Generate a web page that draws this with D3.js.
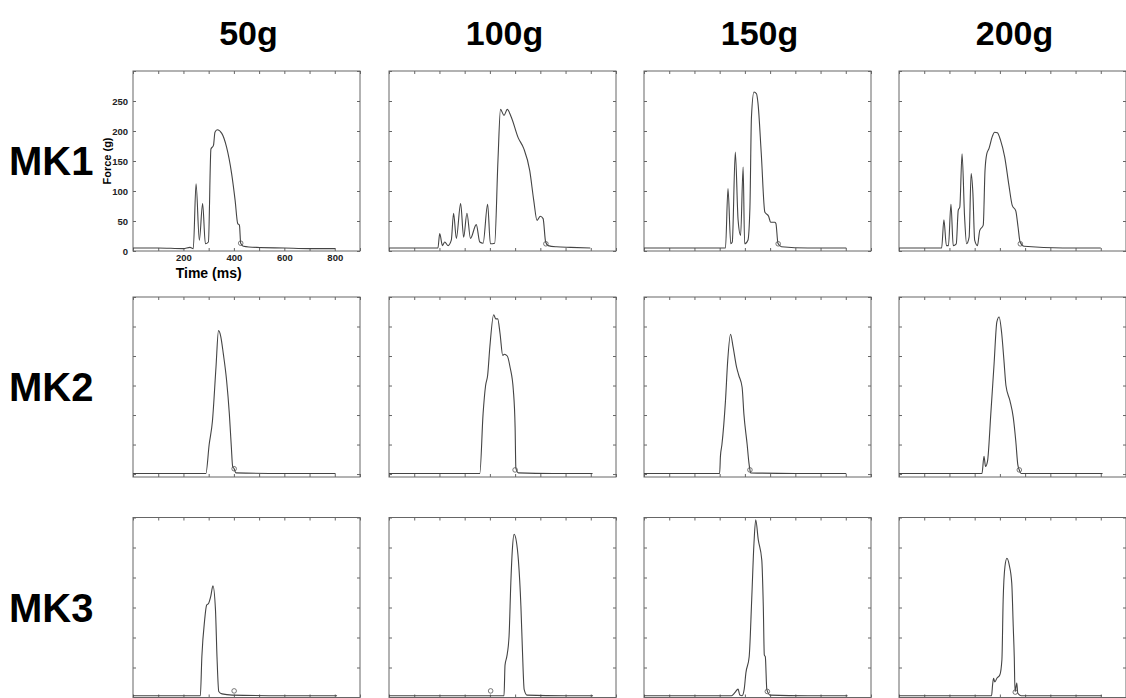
<!DOCTYPE html>
<html>
<head>
<meta charset="utf-8">
<script src="https://cdn.jsdelivr.net/npm/d3@7"></script>
<style>
  body { margin: 0; background: #fff; }
  svg { font-family: "Liberation Sans", Arial, sans-serif; }
  .tick text { font-weight: bold; font-size: 9.5px; fill: #222; }
</style>
</head>
<body>
<svg id="chart" width="1126" height="698"></svg>
<script>
// column / row headers
var loads = ['50g', '100g', '150g', '200g'];
var mice = ['MK1', 'MK2', 'MK3'];

// ticks
var timeTicks = [0, 100, 200, 300, 400, 500, 600, 700, 800, 900];
var forceTicks = [0, 50, 100, 150, 200, 250, 300];
var timeLabels = [200, 400, 600, 800];
var forceLabels = [0, 50, 100, 150, 200, 250];

// traces, [time ms, force g]
var mk1_50 = [[0,5],[100,5],[200,4],[226,6],[239,4],[250,112],[263,18],[276,79],[287,12],[299,15],[309,170],[319,176],[325,198],[334,202],[352,196],[371,173],[391,129],[405,84],[415,46],[422,43],[427,13],[438,8],[490,6],[600,5],[700,4],[801,4]];
var mk1_100 = [[0,5],[100,5],[194,5],[201,29],[212,9],[221,15],[234,9],[247,18],[256,63],[267,21],[284,79],[296,23],[309,63],[323,21],[346,44],[360,15],[373,13],[391,78],[402,12],[419,13],[432,151],[442,236],[456,226],[469,236],[485,223],[512,189],[534,171],[558,134],[574,84],[587,51],[600,58],[611,54],[621,15],[631,9],[664,7],[720,6],[798,5]];
var mk1_150 = [[0,5],[150,5],[323,5],[333,104],[344,12],[350,15],[362,165],[373,52],[383,26],[393,140],[399,12],[412,18],[420,73],[426,223],[436,265],[446,262],[452,246],[465,162],[479,65],[485,62],[494,58],[502,48],[518,48],[523,46],[531,13],[545,7],[650,5],[802,5]];
var mk1_200 = [[0,5],[100,5],[169,5],[178,52],[188,9],[196,9],[206,78],[215,9],[227,12],[235,68],[241,73],[250,162],[260,57],[268,12],[278,23],[286,129],[293,96],[300,18],[311,9],[320,34],[334,43],[341,134],[348,162],[357,171],[370,191],[379,198],[390,197],[403,184],[419,157],[436,109],[449,76],[463,67],[472,40],[480,15],[496,8],[650,5],[800,5]];

var mk2_50 = [[0,1],[150,1],[289,1],[302,50],[315,90],[329,181],[339,243],[348,233],[358,204],[371,159],[382,102],[390,45],[395,13],[401,9],[408,2],[600,1],[803,1]];
var mk2_100 = [[0,1],[200,1],[360,1],[373,102],[383,150],[391,167],[400,216],[415,270],[423,263],[431,263],[440,239],[451,201],[457,203],[469,200],[480,181],[493,142],[500,79],[503,10],[513,2],[650,1],[807,1]];
var mk2_150 = [[0,1],[150,1],[300,1],[303,30],[309,50],[323,124],[332,193],[343,237],[353,216],[367,181],[376,167],[389,147],[396,102],[409,50],[416,19],[420,7],[423,2],[600,1],[802,1]];
var mk2_200 = [[0,1],[200,1],[329,1],[337,30],[343,13],[351,22],[364,102],[377,187],[388,258],[397,266],[407,239],[416,193],[424,150],[440,124],[453,96],[463,56],[471,16],[477,7],[484,1],[650,1],[807,1]];

var mk3_50 = [[0,3],[150,3],[267,3],[273,68],[284,129],[292,154],[300,157],[308,168],[317,186],[327,146],[333,68],[340,10],[353,6],[393,4],[600,3],[809,3]];
var mk3_100 = [[0,3],[200,3],[456,3],[460,54],[467,68],[476,102],[483,191],[489,246],[496,272],[505,260],[513,229],[523,152],[529,79],[536,13],[547,4],[700,3],[809,3]];
var mk3_150 = [[0,3],[200,3],[347,3],[360,8],[373,14],[380,4],[389,3],[397,13],[404,41],[417,68],[427,163],[436,257],[443,296],[453,263],[467,229],[473,152],[477,71],[481,68],[487,13],[500,4],[650,3],[807,3]];
var mk3_200 = [[0,3],[200,3],[367,3],[371,21],[375,32],[380,26],[388,32],[400,38],[408,63],[413,163],[420,218],[428,232],[437,221],[447,191],[453,118],[457,68],[460,10],[467,24],[471,7],[484,3],[650,3],[804,3]];

// small open circles (movement end markers)
var marks = [
  [[427,13]], [[622,12]], [[532,12]], [[481,12]],
  [[401,9]], [[500,7]], [[420,7]], [[477,7]],
  [[401,11]], [[403,11]], [[489,10]], [[461,9]]
];

var traces = [
  [mk1_50, mk1_100, mk1_150, mk1_200],
  [mk2_50, mk2_100, mk2_150, mk2_200],
  [mk3_50, mk3_100, mk3_150, mk3_200]
];

var colX = [133, 389, 644, 899];
var rowY = [71, 297, 517.5];
var rowMin = [0, -5, 0];
var pw = 227, ph = 180;

var svg = d3.select('#chart');

// headers
svg.selectAll('text.col')
  .data(loads)
  .enter()
  .append('text')
    .attr('class', 'col')
    .attr('x', (d, i) => colX[i] + pw / 2 + 2)
    .attr('y', 45)
    .attr('text-anchor', 'middle')
    .style('font-size', '34px')
    .style('font-weight', 'bold')
    .text(d => d);

svg.selectAll('text.row')
  .data(mice)
  .enter()
  .append('text')
    .attr('class', 'row')
    .attr('x', 9)
    .attr('y', (d, i) => rowY[i] + ph / 2 + 14)
    .style('font-size', '40px')
    .style('font-weight', 'bold')
    .text(d => d);

var x = d3.scaleLinear().domain([0, 900]).range([0, pw]);

traces.forEach(function(row, r) {
  var y = d3.scaleLinear().domain([rowMin[r], 300]).range([ph, 0]);
  var line = d3.line().curve(d3.curveMonotoneX).x(d => x(d[0])).y(d => y(d[1]));

  row.forEach(function(data, c) {
    var first = (r == 0 && c == 0);
    var g = svg.append('g')
      .attr('transform', 'translate(' + colX[c] + ',' + rowY[r] + ')');

    // inward ticks on all four sides
    var bottom = d3.axisBottom(x).tickValues(timeTicks).tickSizeInner(-3).tickSizeOuter(0).tickPadding(3)
      .tickFormat(d => first && timeLabels.indexOf(d) >= 0 ? d : '');
    var top = d3.axisTop(x).tickValues(timeTicks).tickSizeInner(-3).tickSizeOuter(0).tickFormat('');
    var left = d3.axisLeft(y).tickValues(forceTicks).tickSizeInner(-3).tickSizeOuter(0).tickPadding(5)
      .tickFormat(d => first && forceLabels.indexOf(d) >= 0 ? d : '');
    var right = d3.axisRight(y).tickValues(forceTicks).tickSizeInner(-3).tickSizeOuter(0).tickFormat('');

    g.append('g').attr('transform', 'translate(0,' + ph + ')').call(bottom);
    g.append('g').call(top);
    g.append('g').call(left);
    g.append('g').attr('transform', 'translate(' + pw + ',0)').call(right);
    g.selectAll('.domain').remove();
    g.selectAll('.tick line').attr('stroke', '#666');

    g.append('rect')
      .attr('width', pw)
      .attr('height', ph)
      .attr('fill', 'none')
      .attr('stroke', '#666')
      .attr('stroke-width', 1);

    g.append('path')
      .datum(data)
      .attr('d', line)
      .attr('fill', 'none')
      .attr('stroke', '#444')
      .attr('stroke-width', 1.1);

    g.selectAll('circle')
      .data(marks[r * 4 + c])
      .enter()
      .append('circle')
        .attr('cx', d => x(d[0]))
        .attr('cy', d => y(d[1]))
        .attr('r', 2.3)
        .attr('fill', 'none')
        .attr('stroke', '#555')
        .attr('stroke-width', 0.8);

    if (first) {
      g.append('text')
        .attr('transform', 'translate(-22,' + ph / 2 + ') rotate(-90)')
        .attr('text-anchor', 'middle')
        .style('font-size', '11px')
        .style('font-weight', 'bold')
        .text('Force (g)');
      g.append('text')
        .attr('x', x(300))
        .attr('y', ph + 27)
        .attr('text-anchor', 'middle')
        .style('font-size', '14px')
        .style('font-weight', 'bold')
        .text('Time (ms)');
    }
  });
});
</script>
</body>
</html>
